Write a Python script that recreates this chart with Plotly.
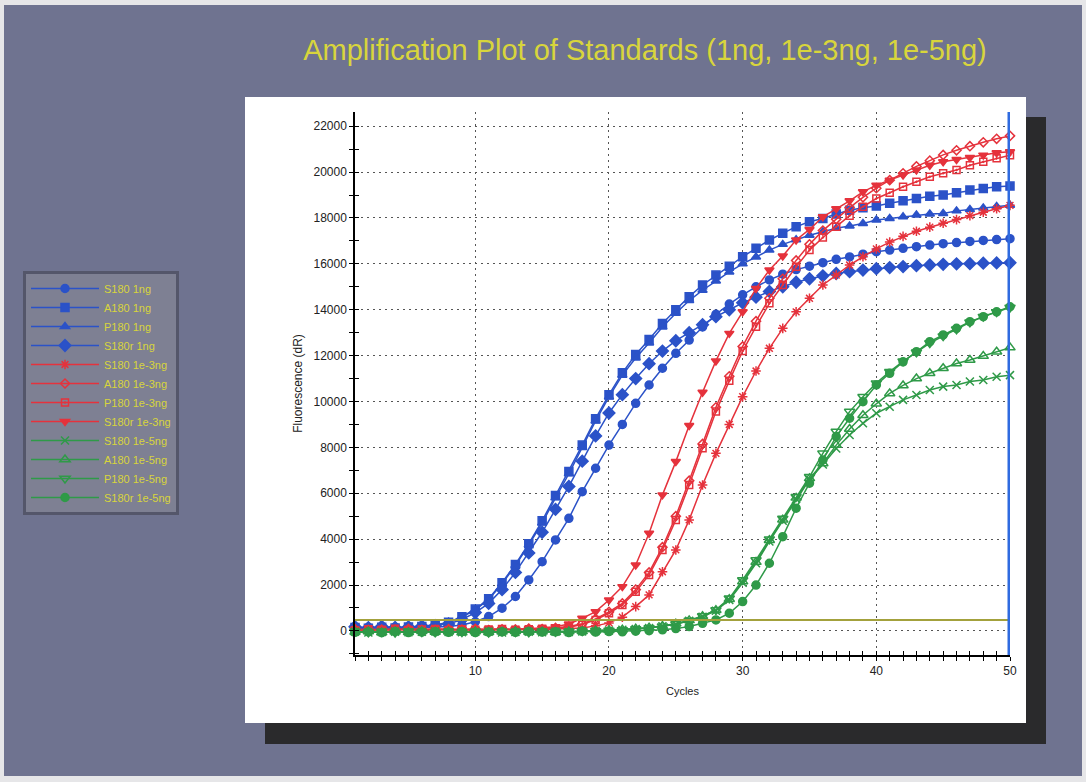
import plotly.graph_objects as go

# ---------------- data ----------------
CYCLES = list(range(1, 51))

S180_1ng = [100, 160, 120, 140, 110, 150, 170, 190, 260, 400, 625, 990, 1500, 2220, 3020, 3965, 4910, 6070, 7090, 8100,
            9000, 9920, 10720, 11450, 12100, 12680, 13250, 13800, 14250, 14650, 15000, 15300, 15550, 15750, 15900, 16050,
            16200, 16300, 16420, 16530, 16600, 16680, 16750, 16820, 16880, 16930, 16980, 17020, 17060, 17100]
A180_1ng = [150, 120, 160, 130, 170, 190, 260, 380, 620, 950, 1400, 2100, 2900, 3800, 4800, 5900, 6950, 8100, 9250, 10300,
            11250, 12050, 12700, 13400, 14000, 14570, 15080, 15510, 15900, 16310, 16680, 17040, 17330, 17620, 17840, 17980,
            18170, 18340, 18450, 18520, 18640, 18750, 18850, 18950, 19000, 19100, 19220, 19290, 19360, 19390]
P180_1ng = [120, 150, 110, 160, 140, 180, 240, 350, 600, 920, 1370, 2050, 2850, 3750, 4700, 5800, 6850, 8000, 9150, 10200,
            11150, 11900, 12550, 13250, 13850, 14400, 14850, 15250, 15650, 16000, 16300, 16600, 16850, 17050, 17250, 17400,
            17550, 17650, 17760, 17910, 17980, 18050, 18130, 18170, 18200, 18310, 18370, 18440, 18500, 18560]
S180r_1ng = [180, 140, 200, 150, 170, 210, 230, 300, 500, 800, 1200, 1800, 2550, 3400, 4300, 5300, 6300, 7400, 8500, 9500,
             10300, 11000, 11650, 12200, 12650, 13000, 13350, 13700, 14000, 14300, 14550, 14800, 15000, 15200, 15350, 15480,
             15580, 15660, 15730, 15790, 15840, 15880, 15920, 15950, 15980, 16000, 16010, 16030, 16040, 16050]

S180_3 = [40, 60, 30, 70, 50, 40, 60, 70, 30, 60, 50, 40, 70, 60, 50, 80, 100, 130, 220, 350,
          600, 1060, 1570, 2580, 3530, 4840, 6360, 7740, 9000, 10210, 11330, 12320, 13190, 13910, 14500, 15080,
          15510, 15950, 16310, 16650, 16950, 17200, 17420, 17600, 17770, 17930, 18100, 18250, 18400, 18550]
A180_3 = [80, 40, 60, 30, 90, 50, 40, 80, 60, 90, 40, 70, 60, 100, 80, 130, 190, 310, 520, 830,
          1200, 1800, 2550, 3650, 5000, 6550, 8150, 9750, 11100, 12400, 13500, 14500, 15350, 16150, 16850, 17450,
          17950, 18450, 18900, 19300, 19650, 19950, 20250, 20500, 20750, 20950, 21130, 21300, 21450, 21580]
P180_3 = [30, 70, 50, 90, 40, 60, 80, 30, 70, 50, 60, 80, 50, 70, 90, 110, 160, 280, 480, 770,
          1130, 1710, 2440, 3530, 4840, 6360, 7960, 9560, 10900, 12200, 13260, 14280, 15080, 15870, 16600, 17150,
          17620, 18100, 18490, 18850, 19100, 19360, 19580, 19800, 19950, 20090, 20300, 20450, 20600, 20740]
S180r_3 = [60, 20, 80, 40, 70, 30, 90, 50, 60, 40, 80, 60, 70, 90, 120, 180, 300, 550, 840, 1350,
           1930, 2875, 4260, 5930, 7380, 8950, 10400, 11770, 12970, 13910, 14930, 15730, 16340, 17040, 17500, 18050,
           18400, 18750, 19140, 19430, 19650, 19870, 20090, 20300, 20450, 20550, 20640, 20740, 20840, 20890]

S180_5 = [-40, -70, -50, -30, -60, -40, -20, -50, -60, -40, -30, -70, -50, -40, -60, -30, -50, -20, 0, 20,
          50, 80, 130, 200, 290, 440, 620, 880, 1350, 2100, 2950, 3900, 4800, 5750, 6600, 7250,
          7950, 8540, 9050, 9490, 9770, 10070, 10280, 10500, 10650, 10720, 10870, 10940, 11080, 11150]
A180_5 = [-50, -30, -70, -40, -60, -20, -50, -40, -70, -30, -60, -40, -20, -50, -40, -60, -30, -20, 10, 30,
          50, 90, 140, 210, 310, 460, 640, 900, 1380, 2150, 3000, 3950, 4850, 5800, 6650, 7300,
          8100, 8800, 9400, 9900, 10350, 10700, 11000, 11230, 11450, 11660, 11810, 11980, 12170, 12350]
P180_5 = [-30, -60, -40, -70, -20, -50, -60, -30, -50, -40, -70, -30, -50, -60, -20, -40, -30, -10, 0, 20,
          40, 80, 130, 200, 300, 450, 650, 915, 1420, 2220, 3090, 4000, 4900, 5850, 6720, 7740,
          8690, 9560, 10210, 10800, 11300, 11750, 12150, 12550, 12850, 13150, 13450, 13700, 13900, 14100]
S180r_5 = [-60, -40, -80, -30, -70, -50, -40, -60, -30, -70, -50, -40, -60, -30, -50, -40, -70, -20, -50, -30,
           -40, -10, 10, 50, 100, 190, 330, 480, 770, 1280, 2000, 2950, 4110, 5350, 6440, 7450,
           8470, 9270, 9990, 10720, 11230, 11730, 12170, 12610, 12900, 13190, 13480, 13700, 13910, 14130]

SERIES_NAMES = ["S180 1ng", "A180 1ng", "P180 1ng", "S180r 1ng",
                "S180 1e-3ng", "A180 1e-3ng", "P180 1e-3ng", "S180r 1e-3ng",
                "S180 1e-5ng", "A180 1e-5ng", "P180 1e-5ng", "S180r 1e-5ng"]
SERIES_VALUES = [S180_1ng, A180_1ng, P180_1ng, S180r_1ng,
                 S180_3, A180_3, P180_3, S180r_3,
                 S180_5, A180_5, P180_5, S180r_5]

THRESHOLD = 480
TITLE = "Amplification Plot of Standards (1ng, 1e-3ng, 1e-5ng)"

# ---------------- styles ----------------
BLUE = "#2b52c8"
RED = "#e5323c"
GREEN = "#2f9a48"
YELLOW = "#d8d53c"
BG = "#6f7390"
FONT = "Liberation Sans, Arial, sans-serif"

STYLES = [
    (BLUE, "circle", 8), (BLUE, "square", 8), (BLUE, "triangle-up", 8), (BLUE, "diamond", 9),
    (RED, "asterisk-open", 8), (RED, "diamond-open", 7), (RED, "square-open-dot", 7), (RED, "triangle-down", 8),
    (GREEN, "x-thin-open", 8), (GREEN, "triangle-up-open", 9), (GREEN, "triangle-down-open", 9), (GREEN, "circle", 8),
]

fig = go.Figure()

for name, vals, (col, sym, sz) in zip(SERIES_NAMES, SERIES_VALUES, STYLES):
    fig.add_trace(go.Scatter(
        x=CYCLES, y=vals, name=name, mode="lines+markers",
        line=dict(color=col, width=1.5),
        marker=dict(symbol=sym, size=sz, color=col, line=dict(color=col, width=1.5)),
        cliponaxis=False,
    ))

# threshold line
fig.add_trace(go.Scatter(
    x=[CYCLES[0], CYCLES[-1]], y=[THRESHOLD, THRESHOLD], mode="lines",
    line=dict(color="#a3a13c", width=2), showlegend=False, hoverinfo="skip",
))

# dummy trace for inner tick overlay axes
fig.add_trace(go.Scatter(x=[None], y=[None], xaxis="x2", yaxis="y2",
                         showlegend=False, hoverinfo="skip"))

L, R, T, B = 355, 76, 112, 127
W, H = 1086, 782
pw, ph = W - L - R, H - T - B


def px_x(px):
    return (px - L) / pw


def px_y(py):
    return (H - B - py) / ph


shapes = [
    # gray background
    dict(type="rect", xref="paper", yref="paper", x0=px_x(4), x1=px_x(1082), y0=px_y(5), y1=px_y(776),
         fillcolor=BG, line=dict(width=0), layer="below"),
    # dark shadow
    dict(type="rect", xref="paper", yref="paper", x0=px_x(265), x1=px_x(1046), y0=px_y(117), y1=px_y(744),
         fillcolor="#2a2a2c", line=dict(width=0), layer="below"),
    # white panel
    dict(type="rect", xref="paper", yref="paper", x0=px_x(245), x1=px_x(1026), y0=px_y(97), y1=px_y(723),
         fillcolor="white", line=dict(width=0), layer="below"),
    # blue vertical line at last cycle
    dict(type="line", xref="x", yref="paper", x0=CYCLES[-1], x1=CYCLES[-1], y0=0, y1=1,
         line=dict(color="#2f6be0", width=5), layer="above"),
]

YR = [-1050, 22620]
XR = [1, 50]

fig.update_layout(
    width=W, height=H,
    margin=dict(l=L, r=R, t=T, b=B, autoexpand=False),
    paper_bgcolor="#e6e6e8",
    plot_bgcolor="rgba(0,0,0,0)",
    shapes=shapes,
    title=dict(text=TITLE, x=645 / W, xref="container", xanchor="center",
               y=1 - 50 / H, yref="container", yanchor="middle",
               font=dict(family=FONT, size=29, color=YELLOW)),
    showlegend=True,
    legend=dict(x=px_x(23), y=px_y(271), xanchor="left", yanchor="top",
                bgcolor="#7e8093", bordercolor="#54566a", borderwidth=3,
                font=dict(family=FONT, size=11, color=YELLOW),
                itemwidth=68, tracegroupgap=0),
    xaxis=dict(range=XR, dtick=10, tick0=0, showgrid=True, gridcolor="#555",
               griddash="2px,4px", gridwidth=1, zeroline=False,
               showline=True, linecolor="black", linewidth=1.5,
               ticks="outside", ticklen=4, tickcolor="black", tickwidth=1,
               minor=dict(dtick=1, tick0=0, ticks="outside", ticklen=4, tickcolor="black", showgrid=False),
               tickfont=dict(family=FONT, size=12, color="#222"),
               title=dict(text="Cycles", font=dict(family=FONT, size=11, color="#222"), standoff=10)),
    yaxis=dict(range=YR, dtick=2000, tick0=0, tickformat="d", showgrid=True, gridcolor="#555",
               griddash="2px,4px", gridwidth=1, zeroline=False,
               showline=True, linecolor="black", linewidth=1.5,
               ticks="outside", ticklen=4, tickcolor="black", tickwidth=1,
               minor=dict(dtick=1000, tick0=0, ticks="outside", ticklen=4, tickcolor="black", showgrid=False),
               tickfont=dict(family=FONT, size=12, color="#222"),
               title=dict(text="Fluorescence (dR)", font=dict(family=FONT, size=12, color="#222"), standoff=8)),
    xaxis2=dict(range=XR, overlaying="x", anchor="y2", dtick=10, tick0=0, showgrid=False, zeroline=False,
                showticklabels=False, ticks="inside", ticklen=4, tickcolor="black",
                minor=dict(dtick=1, tick0=0, ticks="inside", ticklen=4, tickcolor="black", showgrid=False)),
    yaxis2=dict(range=YR, overlaying="y", anchor="x2", dtick=2000, tick0=0, showgrid=False, zeroline=False,
                showticklabels=False, ticks="inside", ticklen=4, tickcolor="black",
                minor=dict(dtick=1000, tick0=0, ticks="inside", ticklen=4, tickcolor="black", showgrid=False)),
    hovermode=False,
)

fig.write_html("out.html", config={"displayModeBar": False},
               post_script="document.body.style.margin='0';")
